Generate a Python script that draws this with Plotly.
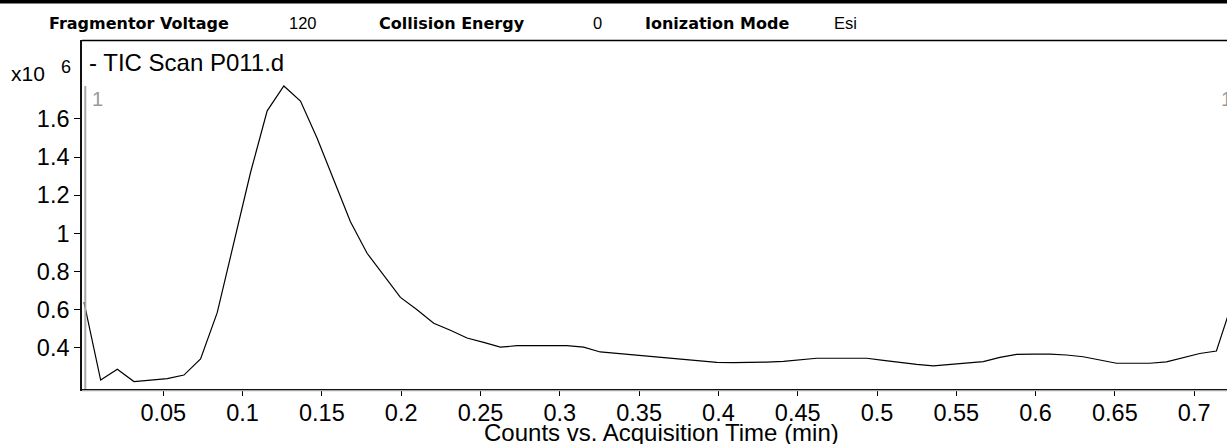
import plotly.graph_objects as go

# ---- data ----
times = [0.0000, 0.0105, 0.0210, 0.0315, 0.0420, 0.0525, 0.0630, 0.0735, 0.0840, 0.0945,
         0.1050, 0.1155, 0.1260, 0.1365, 0.1470, 0.1575, 0.1680, 0.1785, 0.1890, 0.1995,
         0.2100, 0.2205, 0.2310, 0.2415, 0.2520, 0.2625, 0.2730, 0.2835, 0.2940, 0.3045,
         0.3150, 0.3255, 0.3360, 0.3465, 0.3570, 0.3675, 0.3780, 0.3885, 0.3990, 0.4095,
         0.4200, 0.4305, 0.4410, 0.4515, 0.4620, 0.4725, 0.4830, 0.4935, 0.5040, 0.5145,
         0.5250, 0.5355, 0.5460, 0.5565, 0.5670, 0.5775, 0.5880, 0.5985, 0.6090, 0.6195,
         0.6300, 0.6405, 0.6510, 0.6615, 0.6720, 0.6825, 0.6930, 0.7035, 0.7140, 0.7245]
counts_e6 = [0.640, 0.232, 0.288, 0.224, 0.231, 0.239, 0.258, 0.342, 0.585, 0.949,
             1.319, 1.642, 1.772, 1.693, 1.498, 1.280, 1.061, 0.896, 0.783, 0.665,
             0.600, 0.529, 0.493, 0.452, 0.429, 0.404, 0.412, 0.412, 0.412, 0.412,
             0.404, 0.379, 0.372, 0.363, 0.355, 0.348, 0.340, 0.332, 0.324, 0.323,
             0.324, 0.326, 0.330, 0.338, 0.346, 0.346, 0.346, 0.346, 0.335, 0.323,
             0.314, 0.306, 0.314, 0.321, 0.328, 0.351, 0.366, 0.368, 0.368, 0.363,
             0.354, 0.337, 0.320, 0.320, 0.320, 0.327, 0.348, 0.371, 0.384, 0.650]

x_tick_vals = [0.05, 0.1, 0.15, 0.2, 0.25, 0.3, 0.35, 0.4, 0.45, 0.5, 0.55, 0.6, 0.65, 0.7]
x_tick_text = ["0.05", "0.1", "0.15", "0.2", "0.25", "0.3", "0.35", "0.4", "0.45", "0.5",
               "0.55", "0.6", "0.65", "0.7"]
y_tick_vals = [0.4, 0.6, 0.8, 1.0, 1.2, 1.4, 1.6]
y_tick_text = ["0.4", "0.6", "0.8", "1", "1.2", "1.4", "1.6"]

header_labels = ["Fragmentor Voltage", "Collision Energy", "Ionization Mode"]
header_values = ["120", "0", "Esi"]
trace_label = "- TIC Scan P011.d"
x_title = "Counts vs. Acquisition Time (min)"

# ---- layout geometry (pixels) ----
W, H = 1227, 444
L, R, T, B = 82, 1227, 40, 389


def px(x):
    return (x - L) / (R - L)


def py(y):
    return (B - y) / (B - T)


FONT = "Liberation Sans, Arial, sans-serif"

fig = go.Figure()
fig.add_trace(go.Scatter(x=times, y=counts_e6, mode="lines",
                         line=dict(color="#000000", width=1.2),
                         hoverinfo="skip", showlegend=False))

annotations = []
header_label_x = [47, 377, 643]
header_value_x = [287, 591, 832]
for lab, xx in zip(header_labels, header_label_x):
    annotations.append(dict(text="<b>" + lab + "</b>", x=px(xx), y=py(23), xref="paper", yref="paper",
                            xanchor="left", yanchor="middle", showarrow=False,
                            font=dict(family="DejaVu Sans", size=16, color="#000")))
for val, xx in zip(header_values, header_value_x):
    annotations.append(dict(text=val, x=px(xx), y=py(23), xref="paper", yref="paper",
                            xanchor="left", yanchor="middle", showarrow=False,
                            font=dict(family=FONT, size=16.5, color="#000")))

annotations += [
    dict(text=trace_label, x=px(87), y=py(63), xref="paper", yref="paper",
         xanchor="left", yanchor="middle", showarrow=False,
         font=dict(family=FONT, size=24, color="#000")),
    dict(text="x10", x=px(9), y=py(73), xref="paper", yref="paper",
         xanchor="left", yanchor="middle", showarrow=False,
         font=dict(family=FONT, size=21, color="#000")),
    dict(text="6", x=px(59), y=py(67), xref="paper", yref="paper",
         xanchor="left", yanchor="middle", showarrow=False,
         font=dict(family=FONT, size=18, color="#000")),
    dict(text="1", x=px(90), y=py(99), xref="paper", yref="paper",
         xanchor="left", yanchor="middle", showarrow=False,
         font=dict(family=FONT, size=20, color="#9a9a9a")),
    dict(text="1", x=px(1219), y=py(99), xref="paper", yref="paper",
         xanchor="left", yanchor="middle", showarrow=False,
         font=dict(family=FONT, size=20, color="#9a9a9a")),
    dict(text=x_title, x=px(661), y=py(432), xref="paper", yref="paper",
         xanchor="center", yanchor="middle", showarrow=False,
         font=dict(family=FONT, size=24, color="#000")),
]

shapes = [
    # black bar at the very top
    dict(type="rect", xref="paper", yref="paper", x0=px(0), x1=px(W), y0=py(3.5), y1=py(-2),
         fillcolor="#000", line=dict(width=0), layer="above"),
    # top frame line
    dict(type="line", xref="paper", yref="paper", x0=px(82), x1=px(W), y0=py(40.5), y1=py(40.5),
         line=dict(color="#000", width=1.5)),
    # grey cursor line next to y axis
    dict(type="line", xref="paper", yref="paper", x0=px(85.3), x1=px(85.3), y0=py(86), y1=py(389),
         line=dict(color="#a8a8a8", width=2)),
    # grey shadow under x axis
    dict(type="line", xref="paper", yref="paper", x0=px(82), x1=px(W), y0=py(390.6), y1=py(390.6),
         line=dict(color="#a8a8a8", width=1.2)),
]

fig.update_layout(
    width=W, height=H,
    margin=dict(l=L, r=W - R, t=T, b=H - B, pad=0),
    paper_bgcolor="#ffffff", plot_bgcolor="#ffffff",
    font=dict(family=FONT, color="#000"),
    annotations=annotations, shapes=shapes,
    showlegend=False,
)
fig.update_xaxes(range=[(82 - 84) / 1586, (1227 - 84) / 1586],
                 tickvals=x_tick_vals, ticktext=x_tick_text,
                 tickfont=dict(family=FONT, size=23.5, color="#000"),
                 ticks="outside", ticklen=5, tickwidth=1, tickcolor="#000",
                 ticklabelstandoff=-3,
                 showline=True, linecolor="#111", linewidth=1.6,
                 showgrid=False, zeroline=False)
fig.update_yaxes(range=[0.185, 2.013],
                 tickvals=y_tick_vals, ticktext=y_tick_text,
                 tickfont=dict(family=FONT, size=23.5, color="#000"),
                 ticks="outside", ticklen=6, tickwidth=1, tickcolor="#000",
                 showline=True, linecolor="#111", linewidth=1.6,
                 showgrid=False, zeroline=False)

fig.write_html("out.html", config={"displayModeBar": False},
               post_script="document.body.style.margin='0';document.body.style.overflow='hidden';")
